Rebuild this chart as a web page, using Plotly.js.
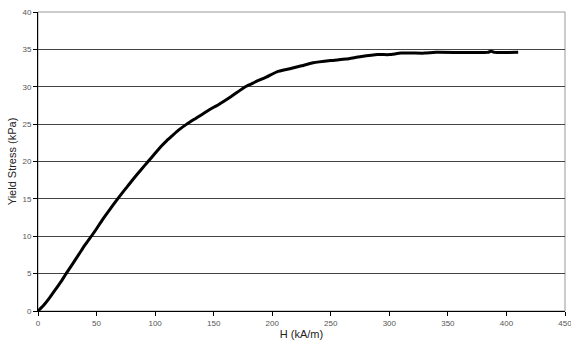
<!DOCTYPE html>
<html>
<head>
<meta charset="utf-8">
<script src="https://cdn.plot.ly/plotly-3.0.1.min.js"></script>
<style>html,body{margin:0;padding:0;background:#fff;}#chart{width:571px;height:344px;}</style>
</head>
<body>
<div id="chart"></div>
<script>
// H field (kA/m)
const fieldH = [0, 5, 10, 15, 20, 24, 30, 35, 40, 46, 50, 55, 60, 68, 75, 80, 88, 94, 100, 105, 110, 115, 120, 127, 135, 145, 155, 165, 177, 185, 195, 204, 215, 225, 235, 250, 263, 275, 290, 300, 310, 330, 340, 384, 387, 390, 410];
// Yield stress (kPa)
const yieldStress = [0, 0.8, 1.8, 2.9, 4.0, 5.0, 6.4, 7.6, 8.8, 10.1, 11.0, 12.2, 13.3, 15.0, 16.4, 17.4, 18.9, 20.0, 21.1, 22.0, 22.8, 23.5, 24.2, 25.0, 25.8, 26.8, 27.7, 28.7, 30.0, 30.6, 31.3, 32.0, 32.4, 32.8, 33.2, 33.5, 33.7, 34.0, 34.3, 34.3, 34.5, 34.5, 34.6, 34.6, 34.75, 34.6, 34.6];
const xTicks = [0, 50, 100, 150, 200, 250, 300, 350, 400, 450];
const yTicks = [0, 5, 10, 15, 20, 25, 30, 35, 40];

const trace = {
  x: fieldH, y: yieldStress, type: 'scatter', mode: 'lines',
  line: {color: '#000', width: 3, shape: 'spline', smoothing: 0.5},
  hoverinfo: 'skip', showlegend: false
};

const tickFont = {family: 'Liberation Sans, Arial, sans-serif', size: 8, color: '#555'};
const layout = {
  width: 571, height: 344,
  margin: {l: 38, r: 6, t: 12, b: 33, pad: 0},
  paper_bgcolor: '#fff', plot_bgcolor: '#fff',
  xaxis: {
    range: [0, 450], tickvals: xTicks, ticktext: xTicks.map(String),
    showgrid: false, zeroline: false,
    showline: true, linecolor: '#000', linewidth: 1,
    ticks: 'outside', ticklen: 4, tickcolor: '#000', tickwidth: 1,
    tickfont: tickFont, ticklabeloverflow: 'allow',
    title: {text: 'H (kA/m)', font: {family: 'Liberation Sans, Arial, sans-serif', size: 11, color: '#222'}, standoff: 3}
  },
  yaxis: {
    range: [0, 40], tickvals: yTicks, ticktext: yTicks.map(String),
    showgrid: true, gridcolor: '#444', gridwidth: 1,
    zeroline: false,
    showline: true, linecolor: '#000', linewidth: 1,
    ticks: 'outside', ticklen: 4, tickcolor: '#000', tickwidth: 1,
    tickfont: tickFont,
    title: {text: 'Yield Stress (kPa)', font: {family: 'Liberation Sans, Arial, sans-serif', size: 11, color: '#222'}, standoff: 3}
  },
  shapes: [{
    type: 'rect', xref: 'paper', yref: 'paper', x0: 0, x1: 1, y0: 0, y1: 1,
    line: {color: '#999', width: 1}, layer: 'below'
  }]
};

Plotly.newPlot('chart', [trace], layout, {staticPlot: true, displayModeBar: false});
</script>
</body>
</html>
